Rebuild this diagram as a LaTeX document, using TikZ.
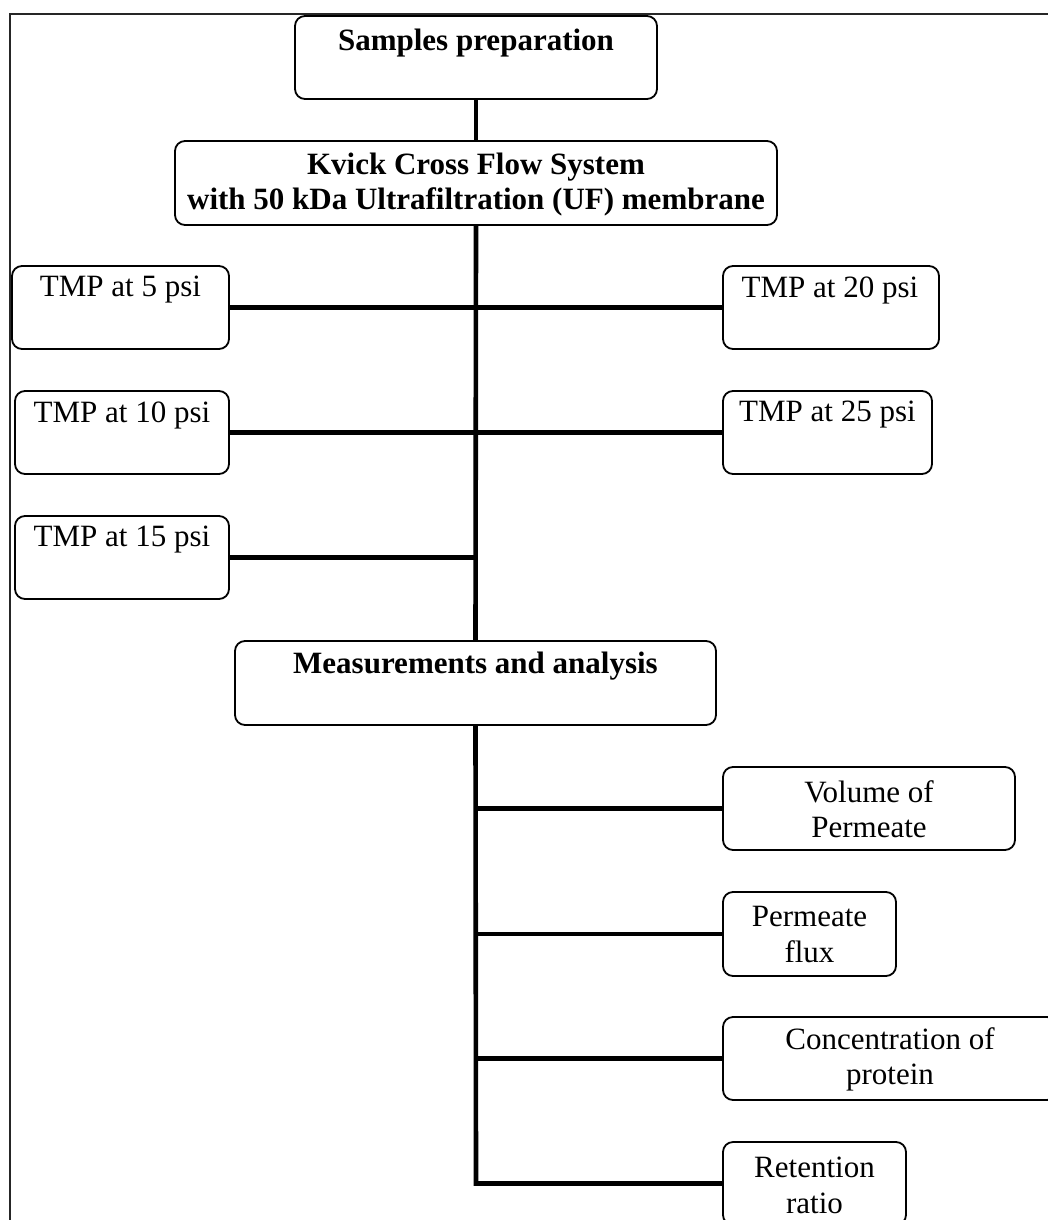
\documentclass[tikz,border=0pt]{standalone}
\usepackage{fontspec}
\setmainfont{Liberation Serif}
\begin{document}
\begin{tikzpicture}[x=0.5pt,y=-0.5pt,
  box/.style={draw=black, line width=0.9pt, rounded corners=5pt, inner sep=0pt},
  txt/.style={align=center, inner sep=0pt, font=\fontsize{15.5}{17.75}\selectfont},
  btxt/.style={txt, font=\fontsize{15.5}{17.75}\selectfont\bfseries},
  conn/.style={line width=2.3pt, line join=miter},
  frame/.style={draw=black!85, line width=1pt}]
\useasboundingbox (0,0) rectangle (1048,1220);
\clip (0,0) rectangle (1048,1220);
% outer frame
\draw[frame] (10,1240) -- (10,14) -- (1070,14);
% boxes
\node[box, minimum width=181pt, minimum height=41.5pt] (sp) at (476,57.5) {};
\node[btxt] (spt) at (476,43) {Samples preparation};
\node[box, minimum width=301pt, minimum height=42pt] (kv) at (476,183) {};
\node[btxt] (kvt) at (476,184.5) {Kvick Cross Flow System\\with 50 kDa Ultrafiltration (UF) membrane};
\node[box, minimum width=108.5pt, minimum height=41.5pt] (t5) at (120.5,307.5) {};
\node[txt] (t5t) at (120.5,290) {TMP at 5 psi};
\node[box, minimum width=108pt, minimum height=41.5pt] (t20) at (831,307.5) {};
\node[txt] (t20t) at (830,290) {TMP at 20 psi};
\node[box, minimum width=107pt, minimum height=41.5pt] (t10) at (122,432.5) {};
\node[txt] (t10t) at (122,415) {TMP at 10 psi};
\node[box, minimum width=104.5pt, minimum height=41.5pt] (t25) at (827.5,432.5) {};
\node[txt] (t25t) at (827.5,415) {TMP at 25 psi};
\node[box, minimum width=107pt, minimum height=41.5pt] (t15) at (122,557.5) {};
\node[txt] (t15t) at (122,540) {TMP at 15 psi};
\node[box, minimum width=240.5pt, minimum height=42pt] (ma) at (475.5,683) {};
\node[btxt] (mat) at (475.5,666) {Measurements and analysis};
\node[box, minimum width=146pt, minimum height=41.5pt] (vp) at (869,808.5) {};
\node[txt] (vpt) at (869,809) {Volume of\\Permeate};
\node[box, minimum width=86.5pt, minimum height=42pt] (pf) at (809.5,934) {};
\node[txt] (pft) at (809.5,934.5) {Permeate\\flux};
\node[box, minimum width=167pt, minimum height=41.5pt] (cp) at (890,1058.5) {};
\node[txt] (cpt) at (890,1059.5) {Concentration of\\protein};
\node[box, minimum width=91.5pt, minimum height=41.5pt] (rr) at (814.5,1183.5) {};
\node[txt] (rrt) at (814.5,1185.5) {Retention\\ratio};
% connectors
\draw[conn] (sp.south) -- (kv.north);
\draw[conn] (kv.south) -- (ma.north);
\draw[conn] (t5.east) -- (t20.west);
\draw[conn] (t10.east) -- (t25.west);
\draw[conn] (t15.east) -- (t15.east -| kv.south);
\coordinate (bend) at (476,1183.5);
\draw[conn] (ma.south) -- (bend) -- (rr.west);
\draw[conn] (vp.west -| bend) -- (vp.west);
\draw[conn] (pf.west -| bend) -- (pf.west);
\draw[conn] (cp.west -| bend) -- (cp.west);
\end{tikzpicture}
\end{document}
